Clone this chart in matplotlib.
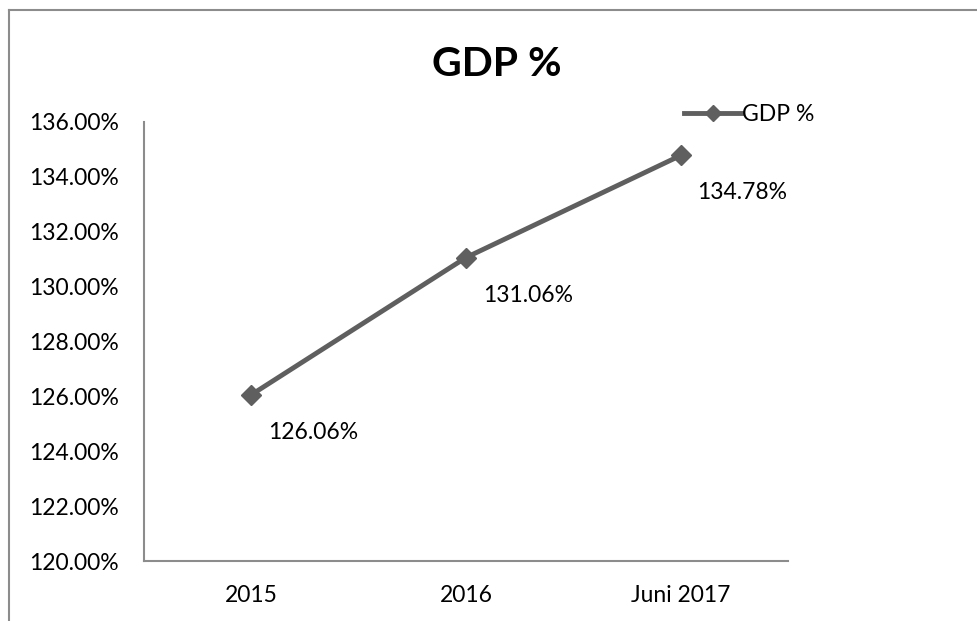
import matplotlib.pyplot as plt
from matplotlib.lines import Line2D

categories = ['2015', '2016', 'Juni 2017']
gdp = [126.06, 131.06, 134.78]
yticks = [120, 122, 124, 126, 128, 130, 132, 134, 136]

plt.rcParams['font.family'] = ['Lato', 'DejaVu Sans']

fig = plt.figure(figsize=(9.77, 6.21), dpi=100)
W, H = 977, 621

# outer chart frame (left and top edges visible)
fig.add_artist(Line2D([9/W, 9/W], [0, 1 - 10/H], color='#8c8c8c', lw=1.5))
fig.add_artist(Line2D([9/W, 1], [1 - 10/H, 1 - 10/H], color='#8c8c8c', lw=1.5))

ax = fig.add_axes([144/W, 60/H, 644/W, 439/H])
x = range(len(categories))
ax.plot(x, gdp, color='#5f5f5f', lw=3.5, marker='D', markersize=10, label='GDP %')

for xi, v in zip(x, gdp):
    ax.annotate('%.2f%%' % v, (xi, v), xytext=(12, -27), textcoords='offset points',
                ha='left', va='center', fontsize=16.5, color='black')

ax.set_xlim(-0.5, len(categories) - 0.5)
ax.set_ylim(120, 136)
ax.set_xticks(list(x))
ax.set_xticklabels(categories)
ax.set_yticks(yticks)
ax.set_yticklabels(['%.2f%%' % t for t in yticks])
ax.tick_params(axis='both', length=0, labelsize=16.5)
ax.tick_params(axis='y', pad=18)
ax.tick_params(axis='x', pad=17)

for s in ['top', 'right']:
    ax.spines[s].set_visible(False)
for s in ['left', 'bottom']:
    ax.spines[s].set_color('#8c8c8c')
    ax.spines[s].set_linewidth(1.5)

fig.text(497/W, 1 - 65/H, 'GDP %', ha='center', va='center', fontsize=29.5, fontweight='bold')

fig.legend(loc='center left', bbox_to_anchor=(684/W, 1 - 115/H), frameon=False,
           fontsize=16.5, handlelength=2.5, handletextpad=0.05, borderpad=0, borderaxespad=0,
           markerscale=0.85)

fig.savefig('out.png', dpi=100)
